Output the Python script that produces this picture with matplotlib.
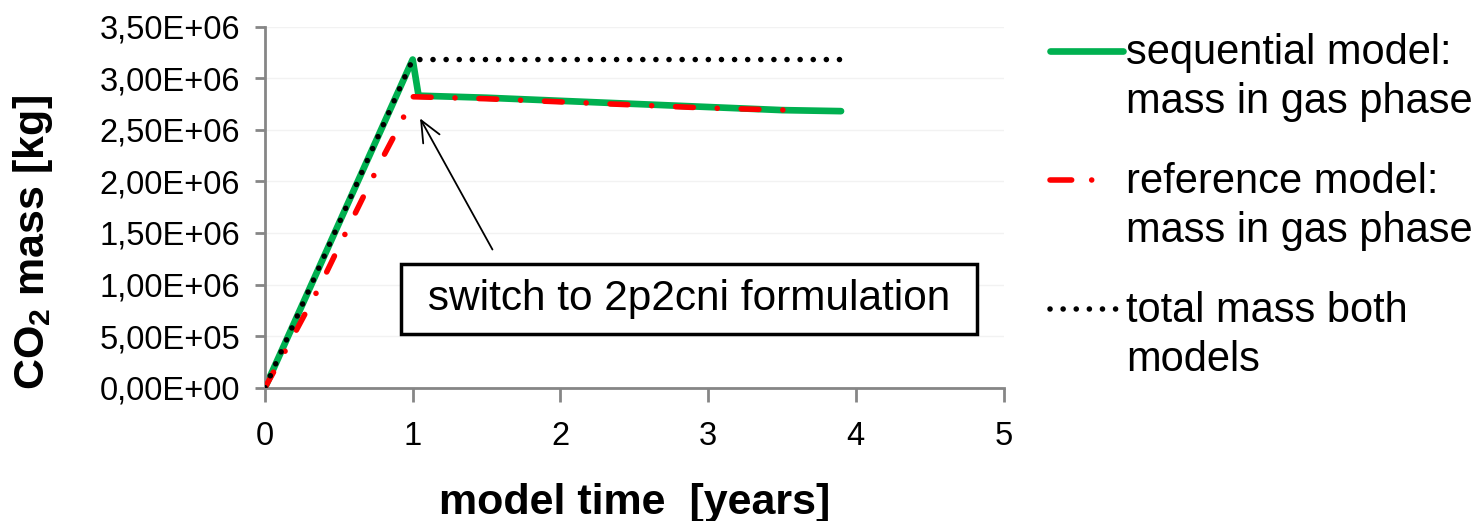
import matplotlib
matplotlib.use("Agg")
import matplotlib.pyplot as plt
from matplotlib.legend_handler import HandlerLine2D
from matplotlib.ticker import FuncFormatter, MultipleLocator

plt.rcParams['font.family'] = ['Liberation Sans', 'DejaVu Sans']
plt.rcParams['mathtext.fontset'] = 'custom'
plt.rcParams['mathtext.rm'] = 'Liberation Sans'
plt.rcParams['mathtext.bf'] = 'Liberation Sans:bold'

# ---- data ----
seq_t = [0.0, 1.0, 1.04, 1.5, 2.0, 2.5, 3.0, 3.5, 3.9]
seq_m = [0.0, 3.18e6, 2.83e6, 2.81e6, 2.78e6, 2.75e6, 2.72e6, 2.69e6, 2.68e6]

ref_t = [0.0, 0.15, 0.37, 0.58, 0.79, 0.93, 0.99, 1.5, 2.0, 2.5, 3.0, 3.55]
ref_m = [0.0, 0.39e6, 0.98e6, 1.60e6, 2.21e6, 2.59e6, 2.82e6, 2.80e6, 2.77e6, 2.74e6, 2.71e6, 2.69e6]

tot_t = [0.0, 1.0, 3.9]
tot_m = [0.0, 3.18e6, 3.18e6]

labels = ["sequential model:\nmass in gas phase",
          "reference model:\nmass in gas phase",
          "total mass both\nmodels"]
annot_text = " switch to 2p2cni formulation "
annot_xy = (1.05, 2.61e6)
annot_text_xy = (2.87, 0.86e6)

GREEN = '#00b050'
RED = '#ff0000'

fig = plt.figure(figsize=(14.81, 5.21), dpi=100)
ax = fig.add_axes([0.1789, 0.2558, 0.6776 - 0.1789, 0.9491 - 0.2558])

l1, = ax.plot(seq_t, seq_m, color=GREEN, lw=4.8, solid_capstyle='round',
              solid_joinstyle='round', zorder=2)
l2, = ax.plot(ref_t, ref_m, color=RED, lw=4.0, dashes=(3.2, 4.3, 0.01, 4.3),
              dash_capstyle='round', zorder=3)
l3, = ax.plot(tot_t, tot_m, color='black', lw=4.0, dashes=(0.01, 2.35),
              dash_capstyle='round', zorder=4)

ax.set_xlim(0, 5)
ax.set_ylim(0, 3.5e6)
ax.xaxis.set_major_locator(MultipleLocator(1))
ax.yaxis.set_major_locator(MultipleLocator(5e5))


def fmt(v, pos):
    s = f"{v:.2E}"
    return s.replace('.', ',')


ax.yaxis.set_major_formatter(FuncFormatter(fmt))
ax.xaxis.set_major_formatter(FuncFormatter(lambda v, p: f"{int(v)}"))

for s in ['top', 'right']:
    ax.spines[s].set_visible(False)
for s in ['left', 'bottom']:
    ax.spines[s].set_color('#868686')
    ax.spines[s].set_linewidth(2)
ax.tick_params(axis='y', direction='out', length=7, width=2, color='#868686',
               labelsize=23.5, pad=11)
ax.tick_params(axis='x', direction='out', length=10, width=2, color='#868686',
               labelsize=23.5, pad=14)
ax.yaxis.grid(True, color='#f2f2f2', lw=1)
ax.set_axisbelow(True)

ax.set_xlabel("model time  [years]", fontsize=31, fontweight='bold', labelpad=22)
ax.set_ylabel(r"CO$_{\mathregular{2}}$ mass [kg]", fontsize=31, fontweight='bold')
ax.yaxis.set_label_coords(-0.284, 0.403)

ax.annotate(annot_text, xy=annot_xy, xytext=annot_text_xy, textcoords='data',
            ha='center', va='center', fontsize=30.5,
            bbox=dict(boxstyle='square,pad=0.35', fc='white', ec='black', lw=2.5),
            arrowprops=dict(arrowstyle='->,head_length=0.5,head_width=0.22', color='black',
                            lw=1.3, shrinkA=11, shrinkB=0, relpos=(0.17, 1.0)))


class TopHandler(HandlerLine2D):
    def create_artists(self, legend, orig_handle, xdescent, ydescent, width,
                       height, fontsize, trans):
        return super().create_artists(legend, orig_handle, xdescent,
                                      ydescent - 1.3 * fontsize, width, height,
                                      fontsize, trans)


def red_key(legline, orig):
    legline.update_from(orig)
    legline.set_dashes((3.9, 3.6, 0.01, 12))


leg = fig.legend([l1, l2, l3], labels, loc='upper left',
                 bbox_to_anchor=(1050 / 1481, 1 - 33 / 521), frameon=False,
                 fontsize=30, handlelength=1.75, handletextpad=0.08,
                 labelspacing=0.95, borderpad=0, borderaxespad=0,
                 handler_map={l1: TopHandler(), l2: TopHandler(update_func=red_key),
                              l3: TopHandler()})
for t in leg.get_texts():
    t.set_linespacing(1.3)

fig.savefig("out.png", dpi=100)
